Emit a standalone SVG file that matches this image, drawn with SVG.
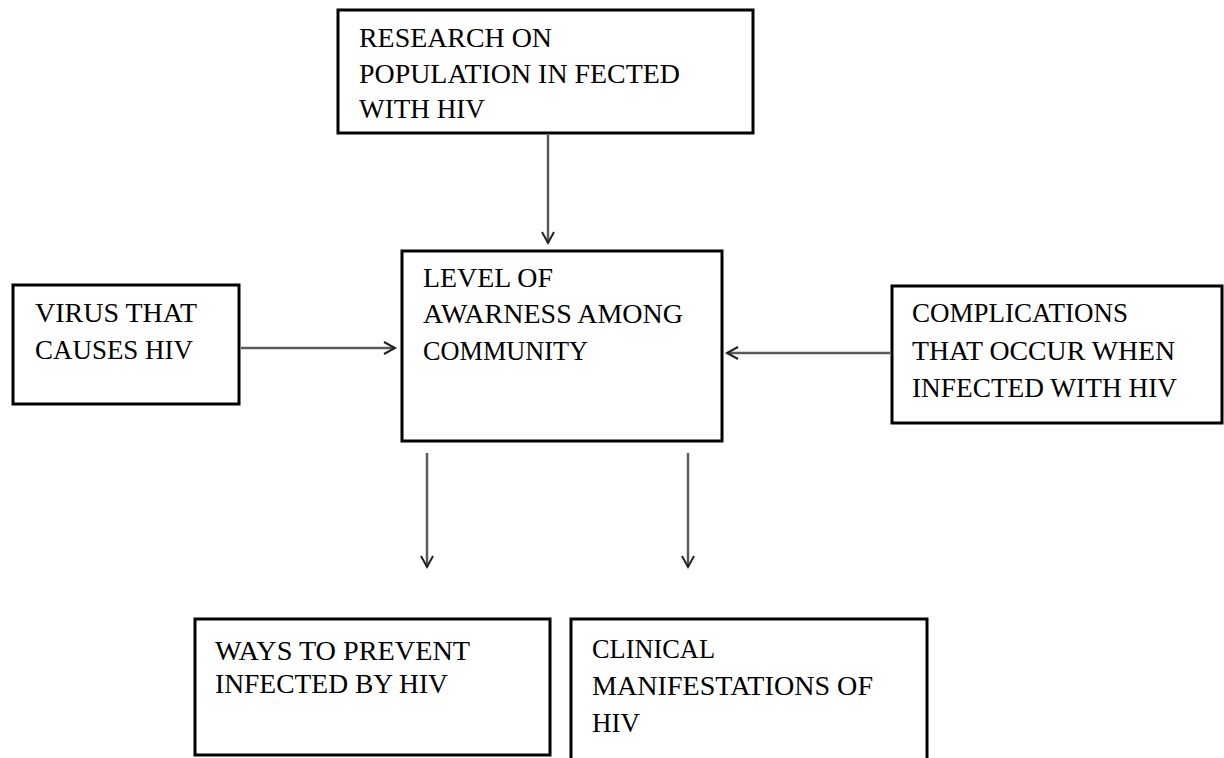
<svg xmlns="http://www.w3.org/2000/svg" width="1224" height="758" viewBox="0 0 1224 758">
  <style>
    .box { fill: #ffffff; stroke: #000000; stroke-width: 3; }
    .t { font-family: "Liberation Serif", "Times New Roman", serif; font-size: 27.5px; fill: #000000; }
    .conn { stroke: #5a5a5a; stroke-width: 2.5; fill: none; marker-end: url(#arr); }
  </style>
  <defs>
    <marker id="arr" markerUnits="userSpaceOnUse" markerWidth="16" markerHeight="16" refX="12" refY="7" orient="auto">
      <path d="M1,1 L12,7 L1,13" fill="none" stroke="#222222" stroke-width="2"/>
    </marker>
  </defs>
  <rect width="1224" height="758" fill="#ffffff"/>

  <g id="research">
    <rect class="box" x="338" y="10" width="415" height="123"/>
    <text class="t" x="359" y="47" textLength="193" lengthAdjust="spacingAndGlyphs">RESEARCH ON</text>
    <text class="t" x="359" y="83" textLength="321" lengthAdjust="spacingAndGlyphs">POPULATION IN FECTED</text>
    <text class="t" x="359" y="118" textLength="126" lengthAdjust="spacingAndGlyphs">WITH HIV</text>
  </g>

  <g id="awareness">
    <rect class="box" x="402" y="251" width="320" height="190"/>
    <text class="t" x="423" y="287" textLength="130" lengthAdjust="spacingAndGlyphs">LEVEL OF</text>
    <text class="t" x="423" y="323" textLength="260" lengthAdjust="spacingAndGlyphs">AWARNESS AMONG</text>
    <text class="t" x="423" y="360" textLength="165" lengthAdjust="spacingAndGlyphs">COMMUNITY</text>
  </g>

  <g id="virus">
    <rect class="box" x="13" y="285" width="226" height="119"/>
    <text class="t" x="35" y="322" textLength="162" lengthAdjust="spacingAndGlyphs">VIRUS THAT</text>
    <text class="t" x="35" y="359" textLength="158" lengthAdjust="spacingAndGlyphs">CAUSES HIV</text>
  </g>

  <g id="complications">
    <rect class="box" x="892" y="286" width="330" height="137"/>
    <text class="t" x="912" y="322" textLength="216" lengthAdjust="spacingAndGlyphs">COMPLICATIONS</text>
    <text class="t" x="912" y="360" textLength="263" lengthAdjust="spacingAndGlyphs">THAT OCCUR WHEN</text>
    <text class="t" x="912" y="397" textLength="265" lengthAdjust="spacingAndGlyphs">INFECTED WITH HIV</text>
  </g>

  <g id="prevent">
    <rect class="box" x="195" y="619" width="355" height="136"/>
    <text class="t" x="215" y="660" textLength="255" lengthAdjust="spacingAndGlyphs">WAYS TO PREVENT</text>
    <text class="t" x="215" y="693" textLength="233" lengthAdjust="spacingAndGlyphs">INFECTED BY HIV</text>
  </g>

  <g id="clinical">
    <rect class="box" x="571" y="619" width="356" height="160"/>
    <text class="t" x="592" y="658" textLength="123" lengthAdjust="spacingAndGlyphs">CLINICAL</text>
    <text class="t" x="592" y="695" textLength="281" lengthAdjust="spacingAndGlyphs">MANIFESTATIONS OF</text>
    <text class="t" x="592" y="732" textLength="48" lengthAdjust="spacingAndGlyphs">HIV</text>
  </g>

  <g id="connectors">
    <line class="conn" x1="548" y1="135" x2="548" y2="243"/>
    <line class="conn" x1="241" y1="348" x2="395" y2="348"/>
    <line class="conn" x1="890" y1="353" x2="727" y2="353"/>
    <line class="conn" x1="427" y1="453" x2="427" y2="567"/>
    <line class="conn" x1="688" y1="453" x2="688" y2="567"/>
  </g>
</svg>
